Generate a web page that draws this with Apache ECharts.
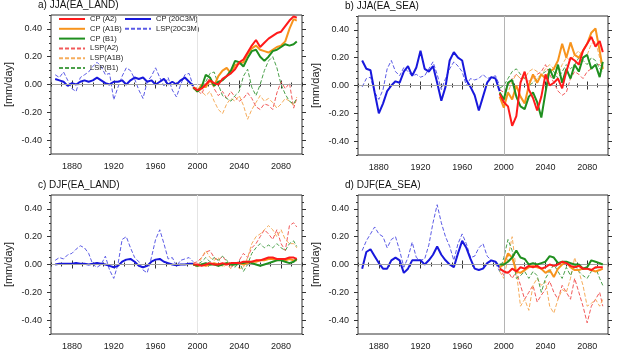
<!DOCTYPE html>
<html>
<head>
<meta charset="UTF-8">
<title>CP / LSP precipitation anomalies</title>
<script src="https://cdn.jsdelivr.net/npm/echarts@6/dist/echarts.min.js"></script>
<style>
  html, body { margin: 0; padding: 0; background: #fff; }
  #main { width: 619px; height: 353px; }
</style>
</head>
<body>
<div id="main"></div>
<script>
// years (4-year samples of the running means)
var histYears = [1864, 1868, 1872, 1876, 1880, 1884, 1888, 1892, 1896, 1900, 1904, 1908, 1912, 1916, 1920, 1924, 1928,
                 1932, 1936, 1940, 1944, 1948, 1952, 1956, 1960, 1964, 1968, 1972, 1976, 1980, 1984, 1988, 1992, 1996];
var futYears = [1996, 2000, 2004, 2008, 2012, 2016, 2020, 2024, 2028, 2032, 2036, 2040, 2044,
                2048, 2052, 2056, 2060, 2064, 2068, 2072, 2076, 2080, 2084, 2088, 2092, 2095];

var xTickYears = [1880, 1920, 1960, 2000, 2040, 2080];
var yTickValues = [-0.4, -0.2, 0, 0.2, 0.4];

// a) JJA(EA_LAND)
var jjaLandCP20  = [0.04, 0.03, 0.02, -0.01, 0.01, 0.00, 0.02, 0.03, 0.02, 0.03, 0.05, 0.03, 0.01, 0.00, 0.02, 0.02, 0.03, 0.00, 0.03, 0.05, 0.04, 0.05, 0.02, 0.03, 0.00, 0.02, 0.04, 0.00, 0.02, 0.00, 0.03, 0.05, 0.02, -0.01];
var jjaLandLSP20 = [0.07, 0.05, 0.09, 0.03, -0.03, -0.05, 0.05, 0.07, 0.09, 0.13, 0.16, 0.13, 0.07, 0.08, -0.11, -0.02, 0.06, 0.12, 0.10, 0.04, -0.04, -0.10, 0.02, 0.06, 0.12, 0.05, -0.01, 0.05, -0.04, -0.09, 0.00, 0.07, 0.08, -0.01];
var jjaLandCPA2   = [-0.02, -0.04, -0.03, 0.00, 0.03, 0.01, 0.00, 0.04, 0.06, 0.08, 0.11, 0.16, 0.18, 0.23, 0.28, 0.32, 0.27, 0.30, 0.33, 0.35, 0.37, 0.38, 0.42, 0.46, 0.49, 0.48];
var jjaLandCPA1B  = [-0.02, -0.05, 0.00, -0.02, 0.03, -0.01, 0.06, 0.10, 0.12, 0.08, 0.14, 0.15, 0.16, 0.22, 0.26, 0.28, 0.25, 0.24, 0.23, 0.25, 0.27, 0.28, 0.31, 0.40, 0.47, 0.46];
var jjaLandCPB1   = [-0.02, -0.05, -0.02, 0.07, 0.05, -0.01, 0.02, 0.03, 0.06, 0.10, 0.17, 0.16, 0.13, 0.19, 0.24, 0.25, 0.20, 0.17, 0.20, 0.24, 0.25, 0.27, 0.29, 0.28, 0.29, 0.31];
var jjaLandLSPA2  = [-0.02, -0.04, -0.07, 0.00, 0.05, -0.03, -0.08, -0.05, -0.10, -0.05, -0.09, -0.12, -0.10, -0.06, -0.10, -0.16, -0.18, -0.14, -0.15, -0.18, -0.06, 0.02, -0.03, 0.01, -0.17, -0.10];
var jjaLandLSPA1B = [-0.03, -0.02, -0.05, -0.08, -0.05, -0.12, -0.18, -0.21, -0.14, -0.10, -0.12, -0.08, -0.15, -0.25, -0.18, -0.13, -0.08, -0.12, -0.10, -0.13, -0.17, -0.14, -0.10, -0.12, -0.15, -0.09];
var jjaLandLSPB1  = [-0.03, -0.05, -0.03, 0.02, 0.08, 0.09, 0.00, -0.08, -0.10, -0.12, -0.08, -0.05, 0.06, 0.11, -0.02, -0.08, 0.00, 0.10, 0.17, 0.20, 0.12, 0.00, -0.07, -0.12, -0.14, -0.10];

// b) JJA(EA_SEA)
var jjaSeaCP20  = [0.18, 0.12, 0.11, -0.05, -0.20, -0.13, -0.04, 0.00, 0.03, 0.02, 0.10, 0.14, 0.07, 0.13, 0.25, 0.12, 0.10, 0.14, 0.02, -0.11, -0.01, 0.18, 0.24, 0.20, 0.18, 0.04, -0.01, -0.07, -0.18, -0.08, 0.02, 0.06, 0.05, -0.04];
var jjaSeaLSP20 = [-0.01, 0.05, 0.06, -0.05, -0.10, -0.03, 0.12, 0.18, 0.10, 0.07, 0.13, 0.10, 0.07, 0.08, 0.06, 0.07, 0.12, 0.17, 0.08, -0.03, 0.05, 0.12, 0.17, 0.14, 0.10, 0.00, 0.05, 0.04, 0.05, 0.08, 0.05, 0.06, 0.07, 0.00];
var jjaSeaCPA2   = [-0.06, -0.12, -0.15, -0.29, -0.22, 0.02, 0.10, -0.03, -0.09, -0.18, -0.08, 0.08, 0.00, 0.02, 0.05, -0.02, 0.10, 0.20, 0.18, 0.15, 0.25, 0.30, 0.35, 0.28, 0.32, 0.24];
var jjaSeaCPA1B  = [-0.08, -0.16, -0.05, -0.10, 0.00, -0.08, -0.13, 0.00, 0.08, 0.02, 0.08, 0.05, 0.10, 0.12, 0.18, 0.30, 0.20, 0.31, 0.22, 0.20, 0.25, 0.30, 0.38, 0.41, 0.25, 0.12];
var jjaSeaCPB1   = [-0.05, -0.10, 0.02, 0.04, -0.08, -0.15, -0.17, -0.08, -0.05, -0.12, -0.23, -0.05, 0.12, 0.05, 0.15, 0.02, 0.12, 0.05, 0.15, 0.10, 0.20, 0.22, 0.12, 0.15, 0.06, 0.17];
var jjaSeaLSPA2  = [-0.03, -0.05, 0.00, 0.05, 0.08, 0.05, 0.06, 0.03, 0.05, 0.08, 0.10, 0.15, 0.08, 0.02, -0.04, -0.07, -0.05, 0.05, 0.10, 0.08, 0.05, 0.10, 0.12, 0.15, 0.15, 0.12];
var jjaSeaLSPA1B = [-0.05, -0.12, -0.05, 0.03, 0.08, 0.05, 0.05, 0.10, 0.12, 0.10, 0.08, 0.12, 0.15, 0.12, 0.08, 0.15, 0.20, 0.18, 0.22, 0.25, 0.20, 0.22, 0.30, 0.32, 0.20, 0.10];
var jjaSeaLSPB1  = [-0.02, 0.00, 0.05, 0.10, 0.12, 0.08, 0.05, 0.00, 0.02, 0.05, 0.08, 0.10, 0.12, 0.10, 0.05, 0.10, 0.15, 0.12, 0.15, 0.20, 0.18, 0.15, 0.20, 0.18, 0.12, 0.10];

// c) DJF(EA_LAND)
var djfLandCP20  = [0.00, 0.005, 0.005, 0.005, 0.005, 0.01, 0.005, 0.005, 0.00, 0.005, 0.01, 0.005, 0.00, -0.01, -0.02, -0.01, 0.02, 0.035, 0.04, 0.02, -0.01, -0.02, -0.01, 0.02, 0.035, 0.04, 0.02, 0.01, 0.00, -0.005, 0.00, 0.00, 0.005, 0.005];
var djfLandLSP20 = [0.03, 0.05, 0.04, 0.07, 0.08, 0.11, 0.135, 0.12, 0.08, 0.00, -0.02, 0.00, 0.06, -0.04, -0.10, 0.00, 0.18, 0.20, 0.12, 0.05, 0.02, -0.04, -0.06, 0.05, 0.18, 0.25, 0.15, 0.04, 0.05, -0.01, 0.03, 0.04, 0.05, 0.02];
var djfLandCPA2   = [0.00, 0.00, -0.01, 0.00, 0.01, 0.00, 0.00, 0.01, 0.00, 0.01, 0.01, 0.01, 0.02, 0.02, 0.02, 0.03, 0.03, 0.04, 0.05, 0.05, 0.04, 0.04, 0.04, 0.05, 0.05, 0.04];
var djfLandCPA1B  = [0.00, -0.01, 0.00, -0.01, 0.00, 0.01, 0.00, 0.00, 0.01, 0.00, 0.01, 0.01, 0.00, 0.01, 0.02, 0.02, 0.03, 0.03, 0.04, 0.04, 0.03, 0.04, 0.03, 0.04, 0.03, 0.03];
var djfLandCPB1   = [0.00, -0.01, 0.00, 0.01, 0.00, 0.00, -0.01, 0.00, 0.01, 0.00, 0.00, 0.01, 0.01, 0.02, 0.01, 0.00, -0.01, 0.00, 0.01, 0.02, 0.03, 0.03, 0.02, 0.01, 0.02, 0.04];
var djfLandLSPA2  = [0.01, 0.02, 0.05, 0.09, 0.10, 0.05, 0.03, 0.06, 0.02, -0.02, 0.00, 0.03, 0.08, 0.05, 0.12, 0.15, 0.20, 0.25, 0.22, 0.18, 0.25, 0.15, 0.10, 0.28, 0.30, 0.27];
var djfLandLSPA1B = [0.00, -0.02, 0.05, 0.10, 0.05, 0.03, 0.05, -0.02, 0.00, -0.03, 0.02, -0.03, -0.02, 0.05, 0.15, 0.20, 0.22, 0.25, 0.28, 0.25, 0.20, 0.25, 0.18, 0.15, 0.15, 0.12];
var djfLandLSPB1  = [0.00, 0.00, 0.02, 0.05, 0.02, 0.05, 0.03, 0.06, 0.03, 0.00, -0.02, 0.02, -0.05, 0.00, 0.08, 0.12, 0.15, 0.12, 0.14, 0.12, 0.15, 0.12, 0.10, 0.15, 0.17, 0.13];

// d) DJF(EA_SEA)
var djfSeaCP20  = [-0.03, 0.09, 0.11, 0.06, 0.01, -0.03, -0.03, 0.03, 0.05, 0.03, -0.06, -0.03, 0.03, 0.03, 0.03, 0.00, 0.03, 0.07, 0.13, 0.07, 0.03, 0.00, -0.02, 0.08, 0.17, 0.12, 0.04, -0.03, -0.04, -0.03, 0.01, 0.03, 0.02, -0.02];
var djfSeaLSP20 = [0.10, 0.17, 0.22, 0.27, 0.22, 0.20, 0.12, 0.18, 0.20, 0.10, -0.02, 0.05, 0.16, 0.05, 0.03, 0.04, 0.14, 0.30, 0.43, 0.30, 0.20, 0.13, 0.03, 0.15, 0.22, 0.15, 0.05, 0.06, 0.12, 0.15, 0.06, 0.03, 0.01, -0.05];
var djfSeaCPA2   = [-0.03, -0.05, -0.06, -0.03, -0.05, -0.02, -0.03, -0.01, -0.02, -0.01, -0.03, -0.02, 0.00, -0.01, 0.00, 0.02, 0.01, -0.01, -0.02, -0.01, -0.03, -0.03, -0.04, -0.02, -0.02, -0.02];
var djfSeaCPA1B  = [-0.02, 0.00, 0.08, 0.05, -0.05, -0.06, -0.04, -0.02, -0.01, -0.02, -0.03, -0.06, -0.04, -0.09, -0.03, 0.00, 0.02, -0.02, -0.04, -0.04, -0.03, -0.03, -0.04, -0.05, -0.04, -0.03];
var djfSeaCPB1   = [0.00, 0.00, 0.02, 0.05, 0.10, 0.05, 0.04, 0.00, 0.01, 0.00, 0.01, 0.02, 0.06, 0.05, 0.01, 0.02, 0.02, 0.01, 0.00, 0.00, -0.03, -0.02, 0.03, 0.02, 0.01, 0.00];
var djfSeaLSPA2  = [-0.02, -0.08, -0.05, -0.10, -0.05, -0.15, -0.25, -0.20, -0.15, -0.27, -0.22, -0.18, -0.12, -0.20, -0.25, -0.15, -0.20, -0.25, -0.10, -0.20, -0.30, -0.42, -0.30, -0.25, -0.20, -0.30];
var djfSeaLSPA1B = [-0.05, -0.10, 0.05, 0.20, -0.05, -0.30, -0.25, -0.33, -0.15, -0.10, -0.15, -0.12, -0.30, -0.35, -0.25, -0.18, -0.20, -0.10, 0.05, -0.05, -0.15, -0.30, -0.28, -0.25, -0.30, -0.25];
var djfSeaLSPB1  = [-0.05, 0.05, 0.18, 0.10, -0.10, -0.08, -0.05, -0.10, -0.05, -0.08, -0.20, -0.10, -0.05, 0.00, -0.05, -0.10, -0.02, -0.08, 0.00, -0.05, -0.08, -0.10, -0.05, -0.02, -0.10, -0.15];

var histNames = ['CP (20C3M)', 'LSP(20C3M)'];
var futNames = ['CP (A2)', 'CP (A1B)', 'CP (B1)', 'LSP(A2)', 'LSP(A1B)', 'LSP(B1)'];

var panels = [
  { title: 'a) JJA(EA_LAND)', box: { left: 51, top: 15, width: 251, height: 139 }, refColor: '#e4e4e4',
    hist: [jjaLandCP20, jjaLandLSP20], fut: [jjaLandCPA2, jjaLandCPA1B, jjaLandCPB1, jjaLandLSPA2, jjaLandLSPA1B, jjaLandLSPB1] },
  { title: 'b) JJA(EA_SEA)', box: { left: 358, top: 16, width: 250, height: 139 }, refColor: '#b4b4b4',
    hist: [jjaSeaCP20, jjaSeaLSP20], fut: [jjaSeaCPA2, jjaSeaCPA1B, jjaSeaCPB1, jjaSeaLSPA2, jjaSeaLSPA1B, jjaSeaLSPB1] },
  { title: 'c) DJF(EA_LAND)', box: { left: 51, top: 195, width: 251, height: 139 }, refColor: '#e4e4e4',
    hist: [djfLandCP20, djfLandLSP20], fut: [djfLandCPA2, djfLandCPA1B, djfLandCPB1, djfLandLSPA2, djfLandLSPA1B, djfLandLSPB1] },
  { title: 'd) DJF(EA_SEA)', box: { left: 358, top: 195, width: 250, height: 139 }, refColor: '#b4b4b4',
    hist: [djfSeaCP20, djfSeaLSP20], fut: [djfSeaCPA2, djfSeaCPA1B, djfSeaCPB1, djfSeaLSPA2, djfSeaLSPA1B, djfSeaLSPB1] }
];

// solid = CP, dashed = LSP
var histStyle = [
  { color: '#1818dc', width: 2, type: 'solid', z: 4 },
  { color: '#5b5be6', width: 1, type: [4, 2], z: 3 }
];
var futStyle = [
  { color: '#ff1a1a', width: 2, type: 'solid', z: 6 },
  { color: '#f7941d', width: 2, type: 'solid', z: 5 },
  { color: '#1f8f1f', width: 2, type: 'solid', z: 5 },
  { color: '#f25a5a', width: 1, type: [4, 2], z: 3 },
  { color: '#f6ad5c', width: 1, type: [4, 2], z: 3 },
  { color: '#4aa04a', width: 1, type: [4, 2], z: 3 }
];

function pairs(xs, ys) {
  return xs.map(function (x, i) { return [x, ys[i]]; });
}

var myChart = echarts.init(document.getElementById('main'));

var grid = [], xAxis = [], yAxis = [], series = [], title = [];
var axisColor = '#333';

panels.forEach(function (p, i) {
  grid.push({ left: p.box.left, top: p.box.top, width: p.box.width, height: p.box.height,
              show: true, borderColor: axisColor, borderWidth: 1, backgroundColor: 'transparent' });

  title.push({ text: p.title, left: p.box.left - 13, top: p.box.top - 15, padding: 0,
               textStyle: { fontSize: 10, fontWeight: 'normal', color: '#111', fontFamily: 'Liberation Sans' } });

  // x axes: bottom major, bottom minor, top major, top minor
  ['bottom', 'top'].forEach(function (pos) {
    xAxis.push({
      type: 'value', gridIndex: i, position: pos, min: 1860, max: 2100,
      axisLine: { show: false }, splitLine: { show: false },
      axisTick: { show: true, length: 4, customValues: xTickYears, lineStyle: { color: axisColor } },
      axisLabel: { show: pos === 'bottom', customValues: xTickYears, fontSize: 9, margin: 8,
                   color: '#222', fontFamily: 'Liberation Sans',
                   formatter: function (v) { return String(v); } }
    });
    xAxis.push({
      type: 'value', gridIndex: i, position: pos, min: 1860, max: 2100, interval: 10,
      axisLine: { show: false }, splitLine: { show: false },
      axisTick: { show: true, length: 2, lineStyle: { color: axisColor } },
      axisLabel: { show: false }
    });
  });

  // y axes: left major, left minor, right major, right minor
  ['left', 'right'].forEach(function (pos) {
    yAxis.push({
      type: 'value', gridIndex: i, position: pos, min: -0.5, max: 0.5,
      name: pos === 'left' ? '[mm/day]' : '', nameLocation: 'middle', nameGap: 37,
      nameTextStyle: { fontSize: 11, color: '#222', fontFamily: 'Liberation Sans' },
      axisLine: { show: false }, splitLine: { show: false },
      axisTick: { show: true, length: 4, customValues: yTickValues, lineStyle: { color: axisColor } },
      axisLabel: { show: pos === 'left', customValues: yTickValues, fontSize: 9, margin: 9,
                   color: '#222', fontFamily: 'Liberation Sans',
                   formatter: function (v) { return v.toFixed(2); } }
    });
    yAxis.push({
      type: 'value', gridIndex: i, position: pos, min: -0.5, max: 0.5, interval: 0.05,
      axisLine: { show: false }, splitLine: { show: false },
      axisTick: { show: true, length: 2, lineStyle: { color: axisColor } },
      axisLabel: { show: false }
    });
  });

  var xi = i * 4, yi = i * 4;

  // reference lines (zero and year 2000)
  series.push({
    type: 'line', xAxisIndex: xi, yAxisIndex: yi, data: [], z: 1, silent: true,
    markLine: {
      silent: true, symbol: 'none', label: { show: false }, animation: false,
      data: [
        { yAxis: 0, lineStyle: { color: '#a0a0a0', width: 1, type: 'solid' } },
        { xAxis: 2000, lineStyle: { color: p.refColor, width: 1, type: 'solid' } }
      ]
    }
  });

  p.hist.forEach(function (vals, k) {
    var s = histStyle[k];
    series.push({
      name: histNames[k], type: 'line', xAxisIndex: xi, yAxisIndex: yi,
      data: pairs(histYears, vals), showSymbol: false, symbol: 'none', z: s.z,
      itemStyle: { color: s.color },
      lineStyle: { color: s.color, width: s.width, type: s.type }
    });
  });
  p.fut.forEach(function (vals, k) {
    var s = futStyle[k];
    series.push({
      name: futNames[k], type: 'line', xAxisIndex: xi, yAxisIndex: yi,
      data: pairs(futYears, vals), showSymbol: false, symbol: 'none', z: s.z,
      itemStyle: { color: s.color },
      lineStyle: { color: s.color, width: s.width, type: s.type }
    });
  });
});

var legendText = { fontSize: 7.5, lineHeight: 7.5, color: '#222', fontFamily: 'Liberation Sans' };

var option = {
  animation: false,
  backgroundColor: '#fff',
  title: title,
  grid: grid,
  xAxis: xAxis,
  yAxis: yAxis,
  legend: [
    { data: futNames, orient: 'vertical', left: 58, top: 15, padding: 0, itemWidth: 26, itemHeight: 6,
      itemGap: 1.8, selectedMode: false, itemStyle: { opacity: 0 }, textStyle: legendText },
    { data: histNames, orient: 'vertical', left: 124, top: 15, padding: 0, itemWidth: 26, itemHeight: 6,
      itemGap: 1.8, selectedMode: false, itemStyle: { opacity: 0 }, textStyle: legendText }
  ],
  series: series
};
myChart.setOption(option);
</script>
</body>
</html>
